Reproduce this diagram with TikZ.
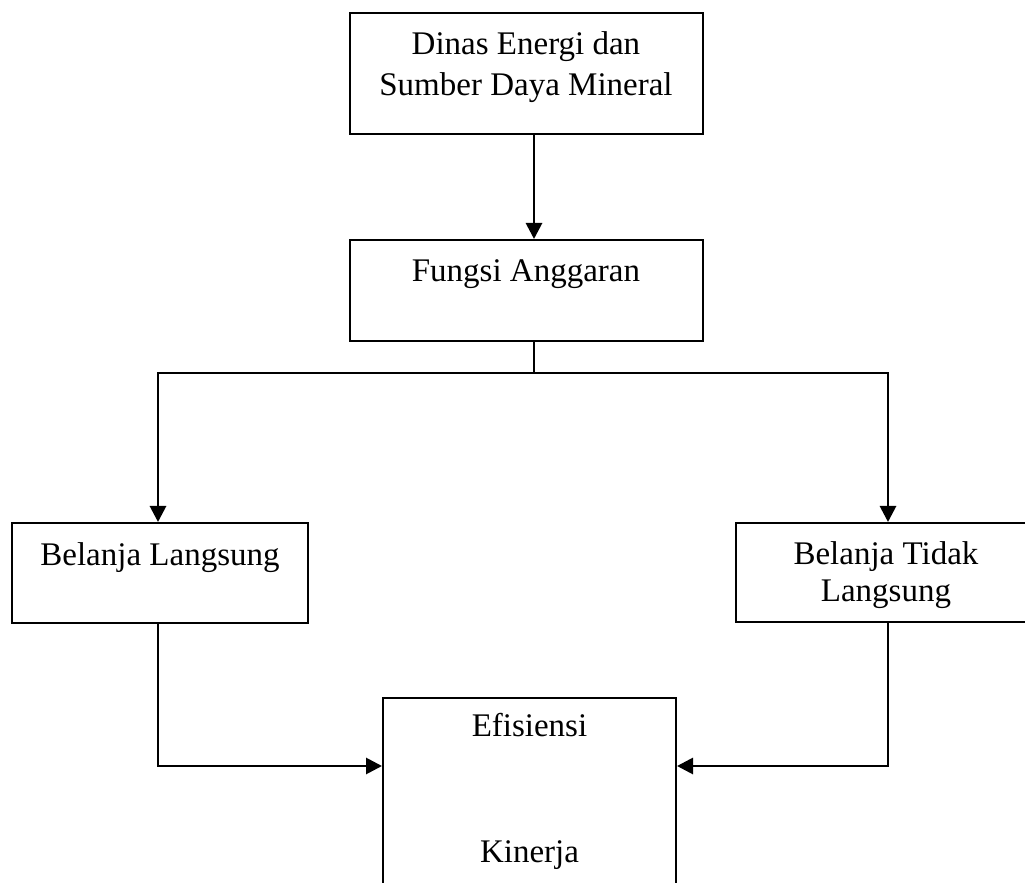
\documentclass[tikz,border=0pt]{standalone}
\usepackage{fontspec}
\setmainfont{Liberation Serif}
\usetikzlibrary{arrows.meta}

\begin{document}
\begin{tikzpicture}[x=0.5pt,y=-0.5pt,
        box/.style={draw, line width=1pt, inner sep=0pt},
        txt/.style={inner sep=0pt, align=center, font=\fontsize{16.5}{20.5}\selectfont},
        line/.style={line width=1.4pt},
        arr/.style={line width=1.4pt, -{Triangle[length=8pt,width=8pt]}}]
        % Page
        \useasboundingbox (0,0) rectangle (1025,883);
        \clip (0,0) rectangle (1025,883);

        % Dinas box
        \node[box, minimum width=176.5pt, minimum height=60.5pt] (dinas) at (526.5,73.5) {};
        \node[txt] (dinasT) at (526,66.7) {Dinas Energi dan\\Sumber Daya Mineral};

        % Fungsi box
        \node[box, minimum width=176.5pt, minimum height=50.5pt] (fungsi) at (526.5,290.5) {};
        \node[txt] (fungsiT) at (526,273.7) {Fungsi Anggaran};

        % Belanja boxes
        \node[box, minimum width=148pt, minimum height=50pt] (langsung) at (160,573) {};
        \node[txt] (langsungT) at (160,557.5) {Belanja Langsung};

        \node[box, minimum width=150pt, minimum height=49.5pt] (tidak) at (886,572.5) {};
        \node[txt] (tidakT) at (886,575.5) {Belanja Tidak\\[-2pt]Langsung};

        % Efisiensi box
        \node[box, minimum width=146.5pt, minimum height=125pt] (kinerja) at (529.5,823) {};
        \node[txt] (kinerjaT) at (529.5,791) {Efisiensi\\[42.5pt]Kinerja};

        % Connections
        \coordinate (fork) at (534,373);
        \draw[arr] ([xshift=3.75pt]dinas.south) -- ([xshift=3.75pt]fungsi.north);
        \draw[line] ([xshift=3.75pt]fungsi.south) -- (fork);
        \draw[arr] (fork) -| ([xshift=-1pt]langsung.north);
        \draw[arr] (fork) -| ([xshift=1pt]tidak.north);
        \draw[arr] ([xshift=-1pt]langsung.south) |- ([yshift=-34.5pt]kinerja.north west);
        \draw[arr] ([xshift=1pt]tidak.south) |- ([yshift=-34.5pt]kinerja.north east);
    \end{tikzpicture}
\end{document}
